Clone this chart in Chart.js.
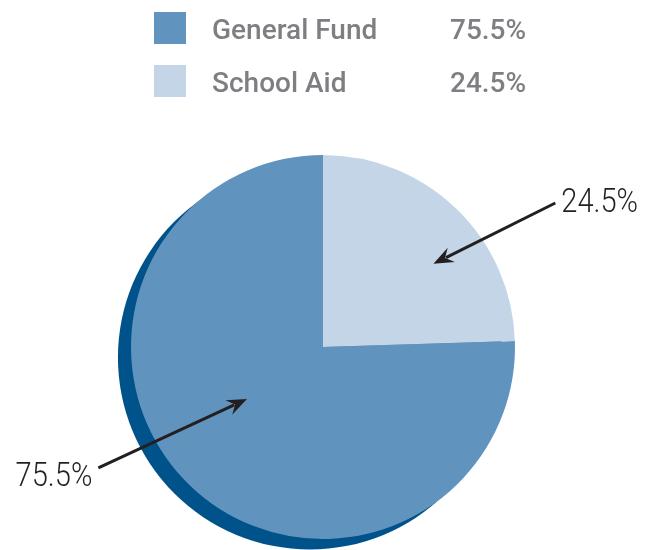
<!DOCTYPE html>
<html>
<head>
<meta charset="utf-8">
<script src="https://cdn.jsdelivr.net/npm/chart.js@4"></script>
<style>
    html, body { margin: 0; padding: 0; background: #fff; }
    #wrap { position: relative; width: 654px; height: 550px; }
    #legend { position: absolute; left: 154px; top: 12px; font-family: "Roboto", "DejaVu Sans Condensed", sans-serif; font-weight: 500; color: #7d7f83; }
    .row { position: relative; height: 53px; }
    .swatch { position: absolute; left: 0; top: 0; width: 32px; height: 32px; }
    .name, .pct { position: absolute; top: 0px; font-size: 28px; line-height: 36px; white-space: nowrap; }
    .name { left: 58px; }
    .pct { left: 296px; }
</style>
</head>
<body>
<div id="wrap">
    <canvas id="chart" width="654" height="550"></canvas>
    <div id="legend"></div>
</div>
<script>
// chart data
const categories = ['General Fund', 'School Aid']
const shares = [75.5, 24.5]
const sliceColors = ['#6193bf', '#c5d5e8']
const shadowColor = '#00538a'

document.addEventListener('DOMContentLoaded', () => {
    const chart = document.getElementById('chart')
    const legend = document.getElementById('legend')

    // build the legend rows at the top
    categories.forEach((name, i) => {
        const row = document.createElement('div')
        row.className = 'row'
        row.innerHTML = `<div class="swatch" style="background:${sliceColors[i]}"></div>` +
            `<div class="name">${name}</div><div class="pct">${shares[i].toFixed(1)}%</div>`
        legend.appendChild(row)
    })

    // dark disc behind the pie, offset down-left
    const shadowPlugin = {
        id: 'shadow',
        beforeDatasetsDraw(c) {
            const arc = c.getDatasetMeta(0).data[0]
            const ctx = c.ctx
            ctx.save()
            ctx.fillStyle = shadowColor
            ctx.beginPath()
            ctx.arc(arc.x - 0.068 * arc.outerRadius, arc.y + 0.055 * arc.outerRadius, arc.outerRadius, 0, Math.PI * 2)
            ctx.fill()
            ctx.restore()
        }
    }

    // callout labels with arrows pointing into each slice
    const callouts = [
        { tipAngle: 145.6, tipDist: 0.48, tailDx: -1.17, tailDy: 0.63, align: 'right', textDx: -6, textDy: 18 },
        { tipAngle: -37, tipDist: 0.72, tailDx: 1.21, tailDy: -0.75, align: 'left', textDx: 6, textDy: 9 }
    ]
    const calloutPlugin = {
        id: 'callouts',
        afterDatasetsDraw(c) {
            const arc = c.getDatasetMeta(0).data[0]
            const r = arc.outerRadius
            const ctx = c.ctx
            callouts.forEach((co, i) => {
                const a = co.tipAngle * Math.PI / 180
                const tx = arc.x + Math.cos(a) * co.tipDist * r
                const ty = arc.y + Math.sin(a) * co.tipDist * r
                const sx = arc.x + co.tailDx * r
                const sy = arc.y + co.tailDy * r
                const ang = Math.atan2(ty - sy, tx - sx)
                const cos = Math.cos(ang)
                const sin = Math.sin(ang)
                const headLen = 20
                const headW = 8
                ctx.save()
                ctx.strokeStyle = '#231f20'
                ctx.fillStyle = '#231f20'
                ctx.lineWidth = 3
                ctx.beginPath()
                ctx.moveTo(sx, sy)
                ctx.lineTo(tx - cos * headLen * 0.7, ty - sin * headLen * 0.7)
                ctx.stroke()
                ctx.beginPath()
                ctx.moveTo(tx, ty)
                ctx.lineTo(tx - cos * headLen - sin * headW, ty - sin * headLen + cos * headW)
                ctx.lineTo(tx - cos * headLen * 0.65, ty - sin * headLen * 0.65)
                ctx.lineTo(tx - cos * headLen + sin * headW, ty - sin * headLen - cos * headW)
                ctx.closePath()
                ctx.fill()
                // condensed light label
                ctx.translate(sx + co.textDx, sy + co.textDy)
                ctx.scale(0.88, 1)
                ctx.font = '300 33px Roboto, "DejaVu Sans Condensed", sans-serif'
                ctx.textBaseline = 'alphabetic'
                ctx.textAlign = co.align
                ctx.fillText(shares[i].toFixed(1) + '%', 0, 0)
                ctx.restore()
            })
        }
    }

    new Chart(chart, {
        type: 'pie',
        data: {
            labels: categories,
            datasets: [{
                data: shares,
                backgroundColor: sliceColors,
                borderWidth: 0
            }]
        },
        options: {
            responsive: false,
            animation: false,
            rotation: shares[1] / 100 * 360,
            layout: { padding: { top: 155, bottom: 11, left: 0, right: 8 } },
            plugins: {
                legend: { display: false },
                tooltip: { enabled: false }
            }
        },
        plugins: [shadowPlugin, calloutPlugin]
    })
})
</script>
</body>
</html>
